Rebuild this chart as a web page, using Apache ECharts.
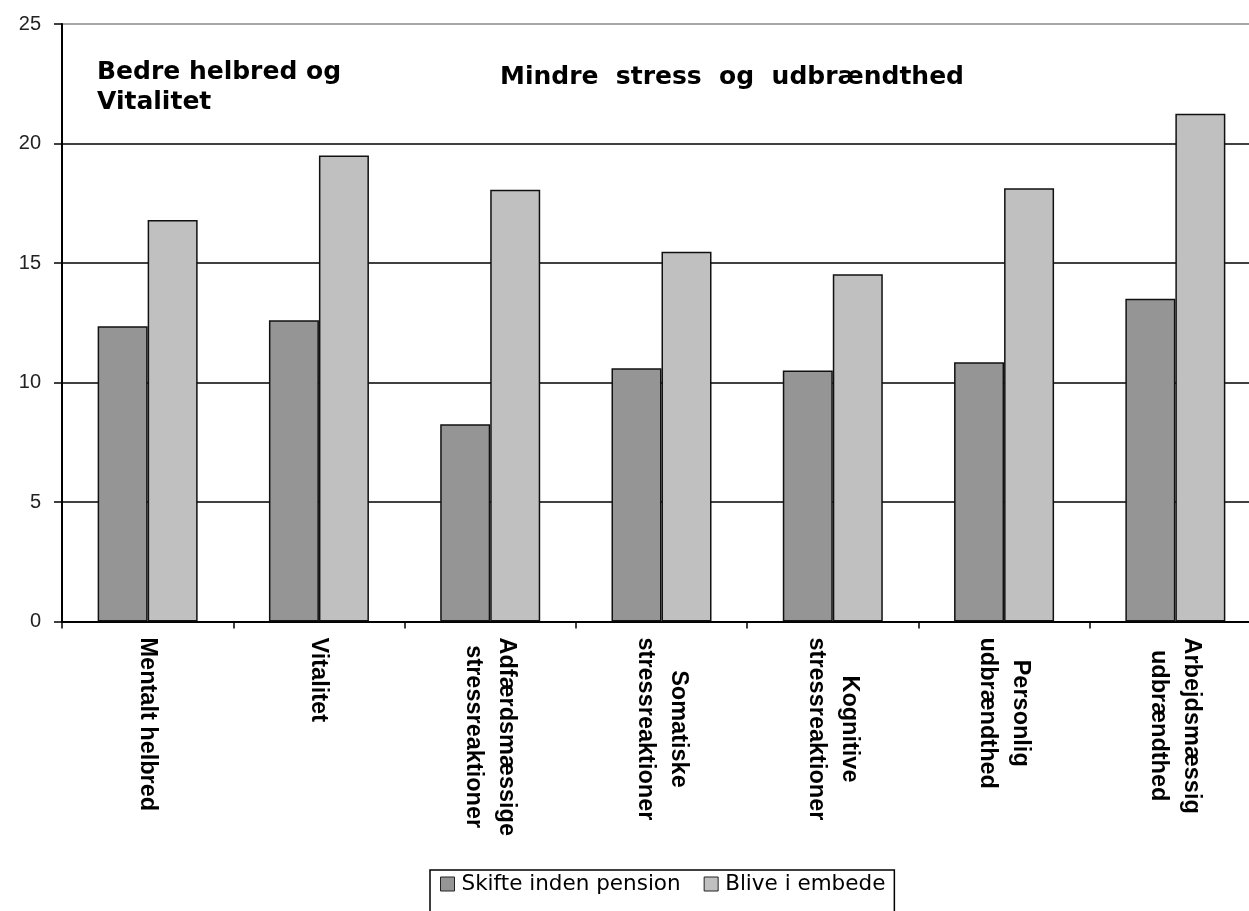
<!DOCTYPE html>
<html>
<head>
<meta charset="utf-8">
<script src="https://cdn.jsdelivr.net/npm/echarts@6/dist/echarts.min.js"></script>
<style>
  html, body { margin: 0; padding: 0; background: #fff; }
  #chart { width: 1249px; height: 911px; }
</style>
</head>
<body>
<div id="chart"></div>
<script>
// Category labels (two-line ones are split with \n)
const categories = [
  'Mentalt helbred',
  'Vitalitet',
  'Adfærdsmæssige\nstressreaktioner',
  'Somatiske\nstressreaktioner',
  'Kognitive\nstressreaktioner',
  'Personlig\nudbrændthed',
  'Arbejdsmæssig\nudbrændthed'
];

const seriesNames = ['Skifte inden pension', 'Blive i embede'];

const skifteValues = [12.35, 12.6, 8.25, 10.6, 10.5, 10.85, 13.5];
const bliveValues  = [16.8, 19.5, 18.07, 15.47, 14.53, 18.13, 21.25];

const yTicks = { min: 0, max: 25, interval: 5 };

const titleMain = 'Bedre helbred og\nVitalitet';
const titleStress = 'Mindre  stress  og  udbrændthed';

const chart = echarts.init(document.getElementById('chart'), null, { renderer: 'canvas' });

const boldTitle = {
  fontFamily: 'DejaVu Sans',
  fontWeight: 'bold',
  fontSize: 25,
  lineHeight: 30,
  color: '#000'
};

chart.setOption({
  backgroundColor: '#fff',
  animation: false,
  title: [
    { text: titleMain, left: 97, top: 57, padding: 0, textStyle: boldTitle },
    { text: titleStress, left: 500, top: 62, padding: 0, textStyle: boldTitle }
  ],
  legend: {
    data: seriesNames,
    icon: 'rect',
    left: 430,
    top: 870,
    padding: [3, 9, 30, 10],
    itemGap: 23,
    itemWidth: 14,
    itemHeight: 14,
    borderColor: '#000',
    borderWidth: 1.5,
    backgroundColor: '#fff',
    itemStyle: { borderColor: '#222', borderWidth: 1 },
    textStyle: {
      fontFamily: 'DejaVu Sans',
      fontSize: 21.5,
      color: '#000',
      padding: [0, 0, 0, 2]
    }
  },
  grid: {
    left: 62,
    top: 24,
    width: 1199,
    bottom: 289.5,
    containLabel: false,
    outerBoundsMode: 'none'
  },
  xAxis: {
    type: 'category',
    data: categories,
    boundaryGap: true,
    axisLine: { show: true, lineStyle: { color: '#000', width: 2 } },
    axisTick: { show: true, length: 7, alignWithLabel: false, lineStyle: { color: '#000', width: 1.5 } },
    axisLabel: {
      interval: 0,
      rotate: -90,
      margin: 16,
      hideOverlap: false,
      formatter: function (v) {
        return v.split('\n').map(function (s) { return '{c|' + s + '}'; }).join('\n');
      },
      rich: {
        c: {
          align: 'center',
          fontFamily: 'Liberation Sans',
          fontWeight: 'bold',
          fontSize: 23.5,
          lineHeight: 33,
          color: '#000'
        }
      }
    },
    splitLine: { show: false }
  },
  yAxis: {
    type: 'value',
    min: yTicks.min,
    max: yTicks.max,
    interval: yTicks.interval,
    axisLine: { show: true, lineStyle: { color: '#000', width: 2 } },
    axisTick: { show: true, inside: false, length: 8, lineStyle: { color: '#000', width: 1.5 } },
    axisLabel: {
      margin: 21,
      fontFamily: 'Liberation Sans',
      fontSize: 20,
      color: '#222'
    },
    splitLine: {
      show: true,
      lineStyle: {
        color: ['#000', '#000', '#000', '#000', '#000', '#8a8a8a'],
        width: 1.5
      }
    }
  },
  series: [
    {
      name: seriesNames[0],
      type: 'bar',
      data: skifteValues,
      barWidth: 50,
      barGap: '0%',
      itemStyle: { color: '#959595', borderColor: '#111', borderWidth: 1.5 }
    },
    {
      name: seriesNames[1],
      type: 'bar',
      data: bliveValues,
      barWidth: 50,
      barGap: '0%',
      itemStyle: { color: '#c0c0c0', borderColor: '#111', borderWidth: 1.5 }
    }
  ]
});
</script>
</body>
</html>
